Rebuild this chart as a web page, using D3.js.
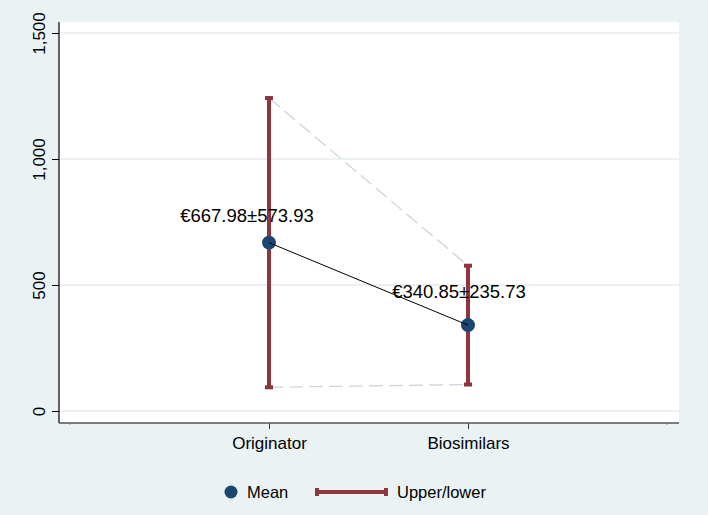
<!DOCTYPE html>
<html>
<head>
<meta charset="utf-8">
<script src="https://cdn.jsdelivr.net/npm/d3@7"></script>
<style>
  body { margin: 0; background: #eaf2f3; }
  svg { display: block; font-family: Arial, "Liberation Sans", sans-serif; }
</style>
</head>
<body>
<div id="chart"></div>
<script>
// data
const groups = ["Originator", "Biosimilars"];
const groupPos = [1, 2];
const means = [667.98, 340.85];
const sds = [573.93, 235.73];
const upper = [1241.91, 576.58];
const lower = [94.05, 105.12];
const yTicks = [0, 500, 1000, 1500];
const xMinorTicks = [0, 3];
const legendLabels = ["Mean", "Upper/lower"];

const width = 708, height = 515;
const plot = { left: 59, right: 679, top: 22, bottom: 423 };

const navy = "#1a476f", maroon = "#90353b";

const svg = d3.select("#chart").append("svg")
  .attr("width", width)
  .attr("height", height);

svg.append("rect")
  .attr("width", width).attr("height", height)
  .attr("fill", "#eaf2f3");

svg.append("rect")
  .attr("x", plot.left).attr("y", plot.top)
  .attr("width", plot.right - plot.left)
  .attr("height", plot.bottom - plot.top)
  .attr("fill", "#ffffff");

const xScale = d3.scaleLinear().domain([0, 3]).range([70, 667]);
const yScale = d3.scaleLinear().domain([0, 1500]).range([411, 33]);

// gridlines
svg.append("g")
  .selectAll("line")
  .data(yTicks)
  .join("line")
  .attr("x1", plot.left).attr("x2", plot.right)
  .attr("y1", d => yScale(d)).attr("y2", d => yScale(d))
  .attr("stroke", "#e4ecef")
  .attr("stroke-width", 1.3);

// y axis
const yAxis = svg.append("g")
  .attr("transform", `translate(${plot.left},0)`)
  .call(d3.axisLeft(yScale).tickValues(yTicks).tickFormat(d3.format(",")).tickSize(7).tickPadding(0));
yAxis.select(".domain").remove();
yAxis.selectAll(".tick line").attr("stroke", "#000");
yAxis.selectAll(".tick text")
  .attr("transform", "translate(-14,0) rotate(-90)")
  .attr("x", 0).attr("y", 0).attr("dy", 0)
  .attr("text-anchor", "middle")
  .attr("font-size", 17)
  .attr("fill", "#000");
svg.append("line")
  .attr("x1", plot.left).attr("x2", plot.left)
  .attr("y1", plot.top).attr("y2", plot.bottom)
  .attr("stroke", "#000").attr("stroke-width", 1.2);

// x axis
const xAxis = svg.append("g")
  .attr("transform", `translate(0,${plot.bottom})`)
  .call(d3.axisBottom(xScale).tickValues(groupPos).tickFormat((d, i) => groups[i]).tickSize(6).tickPadding(6));
xAxis.select(".domain").remove();
xAxis.selectAll(".tick line").attr("stroke", "#333");
xAxis.selectAll(".tick text").attr("font-size", 17).attr("fill", "#000").attr("dy", "0.8em");
svg.append("g")
  .selectAll("line")
  .data(xMinorTicks)
  .join("line")
  .attr("x1", d => xScale(d)).attr("x2", d => xScale(d))
  .attr("y1", plot.bottom).attr("y2", plot.bottom + 2)
  .attr("stroke", "#999");
svg.append("line")
  .attr("x1", plot.left).attr("x2", plot.right)
  .attr("y1", plot.bottom).attr("y2", plot.bottom)
  .attr("stroke", "#555").attr("stroke-width", 1.5);

// dashed connectors between caps
[upper, lower].forEach(arr => {
  svg.append("path")
    .datum(arr)
    .attr("fill", "none")
    .attr("stroke", "#c8d2da")
    .attr("stroke-width", 1.2)
    .attr("stroke-dasharray", "14,6")
    .attr("d", d3.line().x((d, i) => xScale(groupPos[i])).y(d => yScale(d)));
});

// error bars
const bars = svg.append("g");
groupPos.forEach((p, i) => {
  const x = xScale(p);
  bars.append("line")
    .attr("x1", x).attr("x2", x)
    .attr("y1", yScale(upper[i])).attr("y2", yScale(lower[i]))
    .attr("stroke", maroon).attr("stroke-width", 4);
  [upper[i], lower[i]].forEach(v => {
    bars.append("line")
      .attr("x1", x - 4).attr("x2", x + 4)
      .attr("y1", yScale(v)).attr("y2", yScale(v))
      .attr("stroke", maroon).attr("stroke-width", 4);
  });
});

// markers
svg.append("g")
  .selectAll("circle")
  .data(means)
  .join("circle")
  .attr("cx", (d, i) => xScale(groupPos[i]))
  .attr("cy", d => yScale(d))
  .attr("r", 7)
  .attr("fill", navy);

// mean line, drawn over the markers
svg.append("path")
  .datum(means)
  .attr("fill", "none")
  .attr("stroke", "#000")
  .attr("stroke-width", 1)
  .attr("d", d3.line().x((d, i) => xScale(groupPos[i])).y(d => yScale(d)));

// marker labels
const labelShift = [[-22, -21], [-9, -27]];
svg.append("g")
  .selectAll("text")
  .data(means)
  .join("text")
  .attr("x", (d, i) => xScale(groupPos[i]) + labelShift[i][0])
  .attr("y", (d, i) => yScale(d) + labelShift[i][1])
  .attr("text-anchor", "middle")
  .attr("font-size", 18.5)
  .attr("fill", "#000")
  .text((d, i) => `€${d.toFixed(2)}±${sds[i].toFixed(2)}`);

// legend
const leg = svg.append("g").attr("transform", "translate(0,492)");
leg.append("circle").attr("cx", 231).attr("cy", 0).attr("r", 6.5).attr("fill", navy);
leg.append("text").attr("x", 247).attr("y", 6).attr("font-size", 16.5).text(legendLabels[0]);
leg.append("line").attr("x1", 317).attr("x2", 386).attr("y1", 0).attr("y2", 0)
  .attr("stroke", maroon).attr("stroke-width", 4);
[317, 386].forEach(x => {
  leg.append("line").attr("x1", x).attr("x2", x).attr("y1", -4).attr("y2", 4)
    .attr("stroke", maroon).attr("stroke-width", 4);
});
leg.append("text").attr("x", 397).attr("y", 6).attr("font-size", 16.5).text(legendLabels[1]);
</script>
</body>
</html>
